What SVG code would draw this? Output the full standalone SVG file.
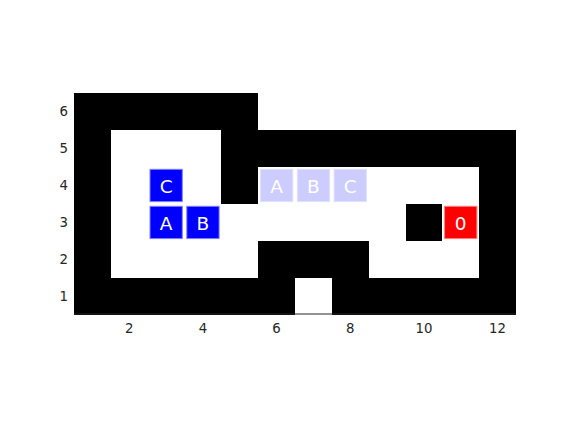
<svg xmlns="http://www.w3.org/2000/svg" width="570" height="422" viewBox="0 0 570 422">
<style>
.wall{fill:#000;shape-rendering:crispEdges}
.tick{font-family:"DejaVu Sans",sans-serif;font-size:13.3px;fill:#262626}
.box{stroke-width:1}
.blue{fill:#0000ff;stroke:#8080ff}
.ghost{fill:#ccccff;stroke:#e0e0ff}
.red{fill:#ff0000;stroke:#ff8080}
.lbl{font-family:"DejaVu Sans",sans-serif;font-size:18.5px;fill:#fff;text-anchor:middle}
</style>
<rect width="570" height="422" fill="#fff"/>
<g id="walls">
<rect class="wall" x="74" y="92.5" width="184.17" height="37"/>
<rect class="wall" x="74" y="92.5" width="36.83" height="222"/>
<rect class="wall" x="221.33" y="129.5" width="294.67" height="37"/>
<rect class="wall" x="221.33" y="166.5" width="36.84" height="37"/>
<rect class="wall" x="479.17" y="129.5" width="36.83" height="185"/>
<rect class="wall" x="405.5" y="203.5" width="36.83" height="37"/>
<rect class="wall" x="258.17" y="240.5" width="110.5" height="37"/>
<rect class="wall" x="74" y="277.5" width="221" height="37"/>
<rect class="wall" x="331.83" y="277.5" width="184.17" height="37"/>
</g>
<g id="axes">
<line x1="74" y1="314" x2="516" y2="314" stroke="#262626" stroke-width="1"/>
<g class="tick" text-anchor="middle">
<text x="129.25" y="332.5">2</text>
<text x="202.92" y="332.5">4</text>
<text x="276.58" y="332.5">6</text>
<text x="350.25" y="332.5">8</text>
<text x="423.92" y="332.5">10</text>
<text x="497.58" y="332.5">12</text>
</g>
<g class="tick" text-anchor="end">
<text x="68" y="116">6</text>
<text x="68" y="153">5</text>
<text x="68" y="190">4</text>
<text x="68" y="227">3</text>
<text x="68" y="264">2</text>
<text x="68" y="301">1</text>
</g>
</g>
<g id="boxC">
<rect class="box blue" x="150" y="169.3" width="32.3" height="32.3"/>
<text class="lbl" x="166.1" y="192.5">C</text>
</g>
<g id="boxA">
<rect class="box blue" x="150" y="206.3" width="32.3" height="32.3"/>
<text class="lbl" x="166.1" y="229.5">A</text>
</g>
<g id="boxB">
<rect class="box blue" x="186.8" y="206.3" width="32.3" height="32.3"/>
<text class="lbl" x="202.9" y="229.5">B</text>
</g>
<g id="ghostA">
<rect class="box ghost" x="260.5" y="169.3" width="32.3" height="32.3"/>
<text class="lbl" x="276.6" y="192.5">A</text>
</g>
<g id="ghostB">
<rect class="box ghost" x="297.3" y="169.3" width="32.3" height="32.3"/>
<text class="lbl" x="313.4" y="192.5">B</text>
</g>
<g id="ghostC">
<rect class="box ghost" x="334.1" y="169.3" width="32.3" height="32.3"/>
<text class="lbl" x="350.2" y="192.5">C</text>
</g>
<g id="target0">
<rect class="box red" x="444.6" y="206.3" width="32.3" height="32.3"/>
<text class="lbl" x="460.7" y="229.5">0</text>
</g>
</svg>
